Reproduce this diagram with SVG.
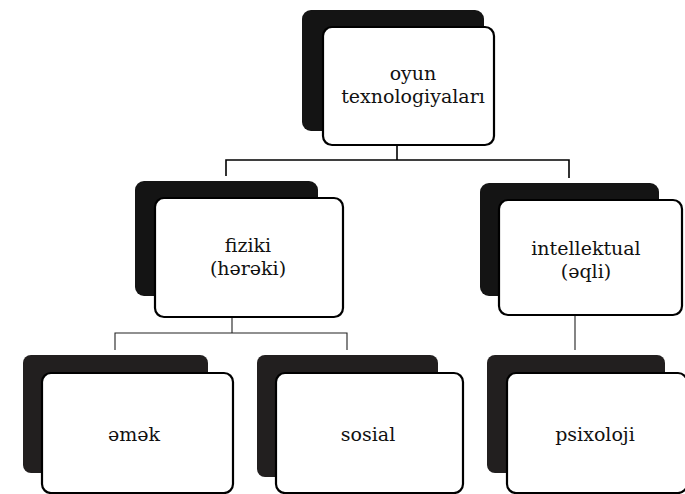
<svg xmlns="http://www.w3.org/2000/svg" width="685" height="494" viewBox="0 0 685 494">
<style>
.shadow{fill:#141414;}
.shadow2{fill:#221f1f;}
.box{fill:#fff;stroke:#000;stroke-width:2.2;}
.lbl{font-family:'DejaVu Serif','Liberation Serif',serif;font-size:19px;fill:#111;text-anchor:middle;}
.conn{fill:none;stroke:#000;stroke-width:1.6;}
.conn2{fill:none;stroke:#222;stroke-width:1.1;}
</style>
<rect width="685" height="494" fill="#fff"/>
<g id="connectors">
<path class="conn" d="M397 145 V160 M226 176 V160 H569 V178"/>
<path class="conn2" d="M232 317 V333 M115 350 V333 H347 V350 M575 315 V350"/>
</g>
<g id="node-oyun">
<rect class="shadow" x="302" y="10" width="182" height="121" rx="9"/>
<rect class="box" x="323" y="27" width="171" height="118" rx="9"/>
<text class="lbl" x="413" y="80">oyun</text>
<text class="lbl" x="413" y="103">texnologiyaları</text>
</g>
<g id="node-fiziki">
<rect class="shadow" x="135" y="181" width="183" height="115" rx="9"/>
<rect class="box" x="155" y="198" width="188" height="119" rx="9"/>
<text class="lbl" x="248" y="252">fiziki</text>
<text class="lbl" x="248" y="275">(hərəki)</text>
</g>
<g id="node-intellektual">
<rect class="shadow" x="480" y="183" width="179" height="113" rx="9"/>
<rect class="box" x="499" y="200" width="183" height="115" rx="9"/>
<text class="lbl" x="586" y="255">intellektual</text>
<text class="lbl" x="586" y="278">(əqli)</text>
</g>
<g id="node-emek">
<rect class="shadow2" x="23" y="355" width="185" height="118" rx="8"/>
<rect class="box" x="42" y="373" width="191" height="120" rx="9"/>
<text class="lbl" x="134" y="441">əmək</text>
</g>
<g id="node-sosial">
<rect class="shadow2" x="257" y="355" width="181" height="122" rx="8"/>
<rect class="box" x="276" y="373" width="187" height="120" rx="9"/>
<text class="lbl" x="368" y="441">sosial</text>
</g>
<g id="node-psixoloji">
<rect class="shadow2" x="487" y="355" width="178" height="118" rx="8"/>
<rect class="box" x="507" y="373" width="180" height="120" rx="9"/>
<text class="lbl" x="595" y="441">psixoloji</text>
</g>
</svg>
